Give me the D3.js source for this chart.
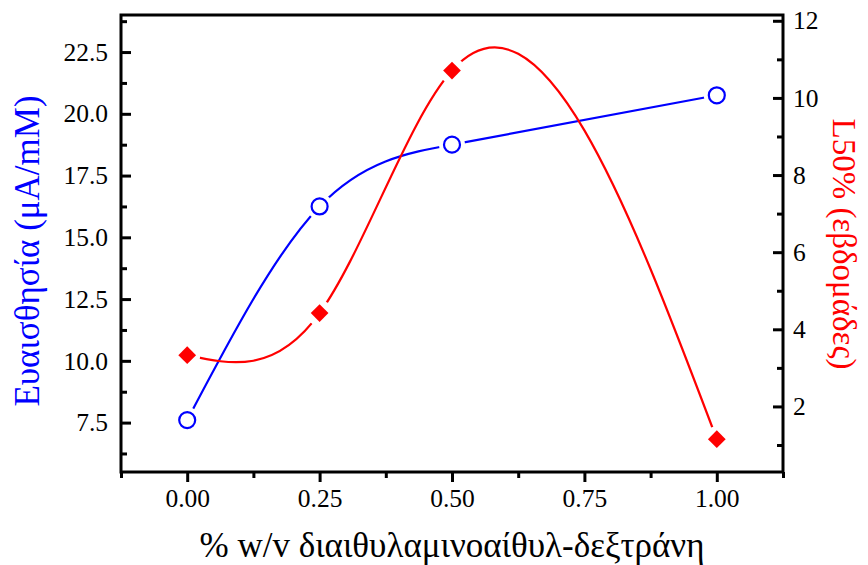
<!DOCTYPE html>
<html>
<head>
<meta charset="utf-8">
<script src="https://cdn.jsdelivr.net/npm/d3@7"></script>
<style>
    body { margin: 0; background: #fff; }
    svg text { font-family: "Liberation Serif", "Times New Roman", serif; }
</style>
</head>
<body>
<div id="container"></div>
<script>

// data
var concentrations = [0, 0.25, 0.5, 1.0];
var sensitivity = [7.6, 16.25, 18.75, 20.75];
var lifetime = [3.33, 4.42, 10.71, 1.15];

// tick labels
var xTicks = [0, 0.25, 0.5, 0.75, 1.0];
var xMinor = [-0.125, 0.125, 0.375, 0.625, 0.875, 1.125];
var leftTicks = [7.5, 10, 12.5, 15, 17.5, 20, 22.5];
var leftMinor = [6.25, 8.75, 11.25, 13.75, 16.25, 18.75, 21.25, 23.75];
var rightTicks = [2, 4, 6, 8, 10, 12];
var rightMinor = [1, 3, 5, 7, 9, 11];

// set variables for further use
var canvasX = 868;
var canvasY = 565;
var plotLeft = 121;
var plotRight = 783;
var plotTop = 15;
var plotBottom = 472;

// make svg
var svg = d3.select("#container")
            .append("svg")
            .attr("width", canvasX)
            .attr("height", canvasY);

// scales
var xScale = d3.scaleLinear().domain([-0.125, 1.125]).range([plotLeft, plotRight]);
var yLeft = d3.scaleLinear().domain([5.5, 24.0]).range([plotBottom, plotTop]);
var yRight = d3.scaleLinear().domain([0.3, 12.15]).range([plotBottom, plotTop]);

// curve that is a natural cubic spline of y against x (like Origin's spline line)
function curveSplineX(context) {
    var xs, ys;
    return {
        areaStart: function() {},
        areaEnd: function() {},
        lineStart: function() { xs = []; ys = []; },
        point: function(x, y) { xs.push(+x); ys.push(+y); },
        lineEnd: function() {
            var n = xs.length - 1;
            if (n < 1) return;
            var h = [], m2 = new Array(n + 1).fill(0);
            for (var i = 0; i < n; i++) h.push(xs[i + 1] - xs[i]);
            // solve the tridiagonal system for second derivatives
            var a = [], b = [], c = [], r = [];
            for (var i = 1; i < n; i++) {
                a.push(h[i - 1]);
                b.push(2 * (h[i - 1] + h[i]));
                c.push(h[i]);
                r.push(6 * ((ys[i + 1] - ys[i]) / h[i] - (ys[i] - ys[i - 1]) / h[i - 1]));
            }
            var k = r.length;
            for (var i = 1; i < k; i++) {
                var w = a[i] / b[i - 1];
                b[i] -= w * c[i - 1];
                r[i] -= w * r[i - 1];
            }
            for (var i = k - 1; i >= 0; i--) {
                m2[i + 1] = (r[i] - (i < k - 1 ? c[i] * m2[i + 2] : 0)) / b[i];
            }
            // slopes at every point
            var slope = [];
            for (var i = 0; i < n; i++) {
                slope.push((ys[i + 1] - ys[i]) / h[i] - h[i] * (2 * m2[i] + m2[i + 1]) / 6);
            }
            slope.push((ys[n] - ys[n - 1]) / h[n - 1] + h[n - 1] * (m2[n - 1] + 2 * m2[n]) / 6);
            // draw every piece as a bezier
            context.moveTo(xs[0], ys[0]);
            for (var i = 0; i < n; i++) {
                var d = h[i] / 3;
                context.bezierCurveTo(xs[i] + d, ys[i] + slope[i] * d,
                                      xs[i + 1] - d, ys[i + 1] - slope[i + 1] * d,
                                      xs[i + 1], ys[i + 1]);
            }
        }
    };
}

// bottom axis, ticks pointing out
svg.append("g")
   .attr("class", "axis")
   .attr("transform", "translate(0," + plotBottom + ")")
   .call(d3.axisBottom(xScale).tickValues(xTicks).tickSize(10).tickPadding(7)
           .tickFormat(d3.format(".2f")));
svg.append("g")
   .attr("class", "axis")
   .attr("transform", "translate(0," + plotBottom + ")")
   .call(d3.axisBottom(xScale).tickValues(xMinor).tickSize(6).tickFormat(""));

// left axis, ticks pointing in
svg.append("g")
   .attr("class", "axis")
   .attr("transform", "translate(" + plotLeft + ",0)")
   .call(d3.axisLeft(yLeft).tickValues(leftTicks).tickSize(-10).tickPadding(13)
           .tickFormat(d3.format(".1f")));
svg.append("g")
   .attr("class", "axis")
   .attr("transform", "translate(" + plotLeft + ",0)")
   .call(d3.axisLeft(yLeft).tickValues(leftMinor).tickSize(-6).tickFormat(""));

// right axis, ticks pointing in
svg.append("g")
   .attr("class", "axis")
   .attr("transform", "translate(" + plotRight + ",0)")
   .call(d3.axisRight(yRight).tickValues(rightTicks).tickSize(-10).tickPadding(10)
           .tickFormat(d3.format("d")));
svg.append("g")
   .attr("class", "axis")
   .attr("transform", "translate(" + plotRight + ",0)")
   .call(d3.axisRight(yRight).tickValues(rightMinor).tickSize(-6).tickFormat(""));

// style the axes
svg.selectAll(".axis").attr("font-family", null).attr("font-size", 25.5);
svg.selectAll(".axis .domain").remove();
svg.selectAll(".axis line").attr("stroke", "#000").attr("stroke-width", 3);
svg.selectAll(".axis text").attr("fill", "#000");

// frame around the plot
svg.append("rect")
   .attr("x", plotLeft)
   .attr("y", plotTop)
   .attr("width", plotRight - plotLeft)
   .attr("height", plotBottom - plotTop)
   .attr("fill", "none")
   .attr("stroke", "#000")
   .attr("stroke-width", 3);

// function to draw one series with gaps round the symbols
function drawSeries(values, yScale, color, symbol, filled) {
    var line = d3.line()
                 .x(function(d, i) { return xScale(concentrations[i]); })
                 .y(function(d) { return yScale(d); })
                 .curve(curveSplineX);

    svg.append("path")
       .datum(values)
       .attr("d", line)
       .attr("fill", "none")
       .attr("stroke", color)
       .attr("stroke-width", 2.2);

    // white gaps round the symbols
    svg.append("g")
       .selectAll("circle")
       .data(values)
       .enter()
       .append("circle")
       .attr("cx", function(d, i) { return xScale(concentrations[i]); })
       .attr("cy", function(d) { return yScale(d); })
       .attr("r", 13)
       .attr("fill", "#fff");

    // symbols
    svg.append("g")
       .selectAll("path")
       .data(values)
       .enter()
       .append("path")
       .attr("transform", function(d, i) {
           return "translate(" + xScale(concentrations[i]) + "," + yScale(d) + ")";
       })
       .attr("d", symbol)
       .attr("fill", filled ? color : "#fff")
       .attr("stroke", color)
       .attr("stroke-width", filled ? 0 : 2.2);
}

drawSeries(sensitivity, yLeft, "blue", d3.symbol().type(d3.symbolCircle).size(Math.PI * 64)(), false);
drawSeries(lifetime, yRight, "red", d3.symbol().type(d3.symbolDiamond2).size(200)(), true);

// axis titles
svg.append("text")
   .attr("transform", "translate(27,251) rotate(-90)")
   .attr("text-anchor", "middle")
   .attr("dy", "0.35em")
   .attr("fill", "blue")
   .attr("font-size", 35)
   .text("Ευαισθησία (μA/mM)");

svg.append("text")
   .attr("transform", "translate(845,244) rotate(90)")
   .attr("text-anchor", "middle")
   .attr("dy", "0.35em")
   .attr("fill", "red")
   .attr("font-size", 33)
   .text("L50% (εβδομάδες)");

svg.append("text")
   .attr("x", (plotLeft + plotRight) / 2)
   .attr("y", 557)
   .attr("text-anchor", "middle")
   .attr("fill", "#000")
   .attr("font-size", 35)
   .text("% w/v διαιθυλαμινοαίθυλ-δεξτράνη");

</script>
</body>
</html>
